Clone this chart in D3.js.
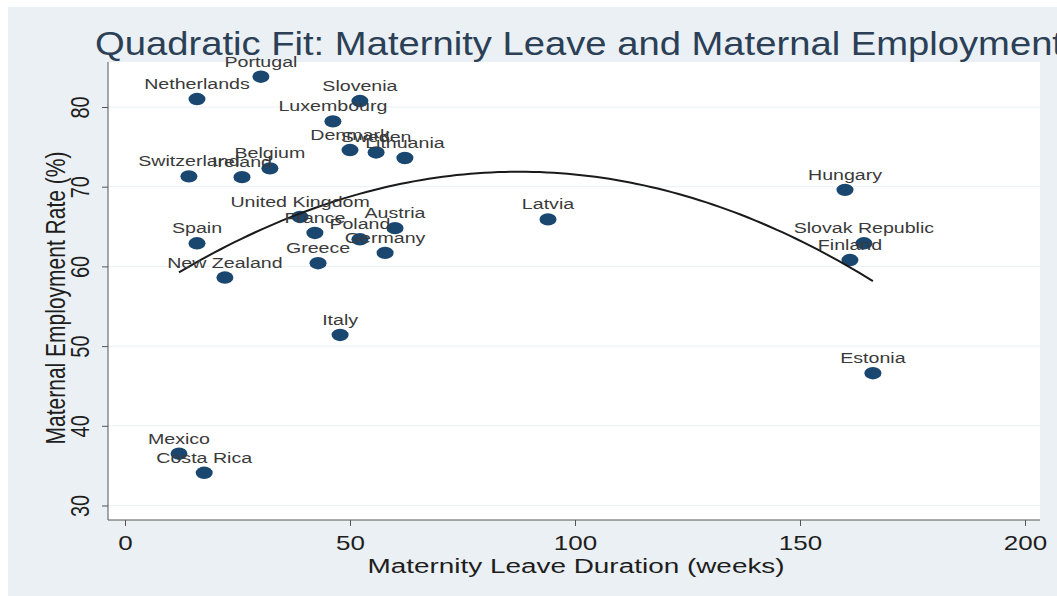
<!DOCTYPE html>
<html><head><meta charset="utf-8">
<script src="https://cdn.jsdelivr.net/npm/d3@7"></script>
<style>html,body{margin:0;padding:0;background:#fff;}svg{display:block;}</style>
</head><body>
<svg id="chart" width="1057" height="596"></svg>
<script>
const countries = ["Portugal","Netherlands","Slovenia","Luxembourg","Denmark","Sweden","Lithuania","Switzerland","Ireland","Belgium","Hungary","Latvia","United Kingdom","France","Austria","Poland","Germany","Greece","Spain","New Zealand","Italy","Mexico","Costa Rica","Slovak Republic","Finland","Estonia"];
const leaveWeeks = [30.2,16,52.2,46.2,50,55.8,62.2,14.2,26,32.2,160,94,38.9,42.2,60,52.2,57.8,42.9,16,22.2,47.8,12,17.6,164.2,161.1,166.2];
const employment = [83.8,81.0,80.75,78.2,74.6,74.3,73.6,71.3,71.2,72.3,69.6,65.9,66.2,64.2,64.8,63.4,61.7,60.4,62.9,58.6,51.4,36.5,34.1,62.9,60.8,46.6];
const xTicks = [0,50,100,150,200];
const yTicks = [30,40,50,60,70,80];
const titleText = "Quadratic Fit: Maternity Leave and Maternal Employment";
const xTitle = "Maternity Leave Duration (weeks)";
const yTitle = "Maternal Employment Rate (%)";

const FONT = "Liberation Sans, Arial, sans-serif";
const svg = d3.select("#chart");
const W = 1057, H = 596;
svg.append("rect").attr("x",8).attr("y",7).attr("width",W-8).attr("height",H-7).attr("fill","#eaf0f3");
const plot = {l:108, r:1040, t:62, b:520};
svg.append("rect").attr("x",plot.l).attr("y",plot.t).attr("width",plot.r-plot.l).attr("height",plot.b-plot.t).attr("fill","#ffffff");

const x = d3.scaleLinear().domain([0,200]).range([125,1025]);
const y = d3.scaleLinear().domain([30,80]).range([505.5,107]);

// gridlines
svg.append("g").selectAll("line").data(yTicks).join("line")
  .attr("x1",plot.l).attr("x2",plot.r).attr("y1",d=>y(d)).attr("y2",d=>y(d))
  .attr("stroke","#eaf0f3").attr("stroke-width",1);

// axes
const xAxis = d3.axisBottom(x).tickValues(xTicks).tickSize(6).tickPadding(6);
const gx = svg.append("g").attr("transform",`translate(0,${plot.b})`).call(xAxis);
gx.select(".domain").attr("d",`M${plot.l},0H${plot.r}`).attr("stroke","#555");
gx.selectAll(".tick line").attr("stroke","#555");
gx.selectAll(".tick text").attr("font-family",FONT).attr("font-size",20).attr("fill","#1e1e1e")
  .attr("dy","0.9em").attr("transform","scale(1.3,1)");

const yAxis = d3.axisLeft(y).tickValues(yTicks).tickSize(6).tickPadding(6);
const gy = svg.append("g").attr("transform",`translate(${plot.l},0)`).call(yAxis);
gy.select(".domain").attr("d",`M0,${plot.t}V${plot.b}`).attr("stroke","#555");
gy.selectAll(".tick line").attr("stroke","#555");
gy.selectAll(".tick text").attr("font-family",FONT).attr("font-size",20).attr("fill","#1e1e1e")
  .attr("text-anchor","middle").attr("x",0).attr("dy",0)
  .attr("transform","translate(-28,0) scale(1.3,1) rotate(-90)").attr("dominant-baseline","central");

// quadratic fit (least squares from the data)
function qfit(xs, ys){
  const n = xs.length;
  let S=[0,0,0,0,0], T=[0,0,0];
  for(let i=0;i<n;i++){const xi=xs[i],yi=ys[i];
    for(let k=0;k<5;k++) S[k]+=Math.pow(xi,k);
    for(let k=0;k<3;k++) T[k]+=yi*Math.pow(xi,k);}
  const A=[[S[0],S[1],S[2],T[0]],[S[1],S[2],S[3],T[1]],[S[2],S[3],S[4],T[2]]];
  for(let i=0;i<3;i++){for(let j=i+1;j<3;j++){const f=A[j][i]/A[i][i];for(let k=i;k<4;k++)A[j][k]-=f*A[i][k];}}
  const c=[0,0,0];
  for(let i=2;i>=0;i--){let s=A[i][3];for(let k=i+1;k<3;k++)s-=A[i][k]*c[k];c[i]=s/A[i][i];}
  return c;
}
const coef = qfit(leaveWeeks, employment);
const xmin = d3.min(leaveWeeks), xmax = d3.max(leaveWeeks);
const fitPts = d3.range(0,101).map(i=>{const xv=xmin+(xmax-xmin)*i/100;return [xv, coef[0]+coef[1]*xv+coef[2]*xv*xv];});

const data = countries.map((c,i)=>({c, x:leaveWeeks[i], y:employment[i]}));

svg.append("g").selectAll("ellipse").data(data).join("ellipse")
  .attr("cx",d=>x(d.x)).attr("cy",d=>y(d.y)).attr("rx",8.5).attr("ry",6.2).attr("fill","#1a476f");

svg.append("path").datum(fitPts)
  .attr("d",d3.line().x(d=>x(d[0])).y(d=>y(d[1])))
  .attr("fill","none").attr("stroke","#1a1a1a").attr("stroke-width",2);

svg.append("g").selectAll("text").data(data).join("text")
  .attr("transform",d=>`translate(${x(d.x)},${y(d.y)-10}) scale(1.4,1)`)
  .attr("text-anchor","middle").attr("font-family",FONT)
  .attr("font-size",14).attr("fill","#3a3a3a").text(d=>d.c);

// titles
svg.append("text").attr("x",95).attr("y",55).attr("font-family",FONT)
  .attr("font-size",33).attr("fill","#2b3f56").attr("textLength",968).attr("lengthAdjust","spacingAndGlyphs").text(titleText);
svg.append("text").attr("transform","translate(576,573) scale(1.33,1)").attr("text-anchor","middle").attr("font-family",FONT)
  .attr("font-size",21).attr("fill","#1e1e1e").text(xTitle);
svg.append("text").attr("transform","translate(55,298) scale(1.3,1) rotate(-90)").attr("text-anchor","middle").attr("font-family",FONT)
  .attr("font-size",21).attr("fill","#1e1e1e").attr("dominant-baseline","central").text(yTitle);
</script>
</body></html>
